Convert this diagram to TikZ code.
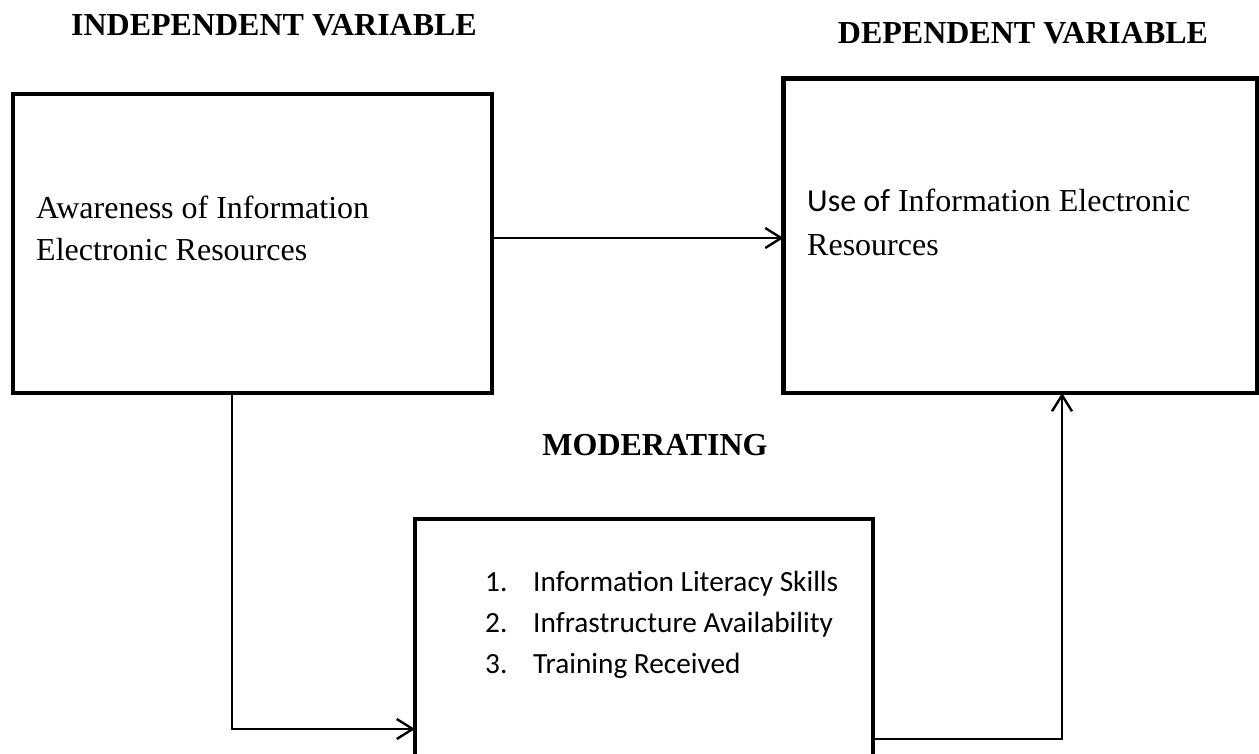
\documentclass[tikz,border=0pt]{standalone}
\usepackage{fontspec}
\setmainfont{Liberation Serif}
\newfontfamily\calibrilike{Carlito}
\usetikzlibrary{arrows.meta}

\begin{document}
\begin{tikzpicture}[x=1pt,y=-1pt,
  varbox/.style={draw,line width=4.8pt,line join=miter},
  link/.style={draw,line width=2pt,-{Straight Barb[length=16pt,width=20pt,line width=2.4pt]}},
  heading/.style={inner sep=0pt,anchor=base,font=\fontsize{32}{38}\selectfont\bfseries},
  bodytext/.style={inner sep=0pt,anchor=base west,font=\fontsize{32}{38}\selectfont},
  listtext/.style={inner sep=0pt,anchor=base west,font=\calibrilike\fontsize{29.3}{36}\selectfont}
]
\useasboundingbox (0,0) rectangle (1259,753);
\clip (0,0) rectangle (1259,753);

% headings
\node[heading] (hind) at (274,35) {INDEPENDENT VARIABLE};
\node[heading] (hdep) at (1023,43) {DEPENDENT VARIABLE};
\node[heading] (hmod) at (655,455) {MODERATING};

% the three boxes
\path[varbox] (13,94) rectangle (492,393);
\path[varbox] (783.5,78.5) rectangle (1257.5,393);
\path[varbox] (415,519) rectangle (873,780);
\coordinate (indR) at (492,238);
\coordinate (indB) at (232,393);
\coordinate (depL) at (783.5,238);
\coordinate (depB) at (1062,393);
\coordinate (modL) at (415,729);
\coordinate (modR) at (873,739);

% box texts
\node[bodytext] (aw1) at (36,218) {Awareness of Information};
\node[bodytext] (aw2) at (36,260) {Electronic Resources};
\node[bodytext] (use1) at (807,211) {{\calibrilike Use of} Information Electronic};
\node[bodytext] (use2) at (807,255) {Resources};

\node[listtext] (n1) at (485,591) {1.};
\node[listtext] (n2) at (485,632) {2.};
\node[listtext] (n3) at (485,673) {3.};
\node[listtext] (l1) at (533,591) {Information Literacy Skills};
\node[listtext] (l2) at (533,632) {Infrastructure Availability};
\node[listtext] (l3) at (533,673) {Training Received};

% connectors
\draw[link] (indR) -- (depL);
\draw[link] (indB) |- (modL);
\draw[link] (modR) -| (depB);
\end{tikzpicture}
\end{document}
